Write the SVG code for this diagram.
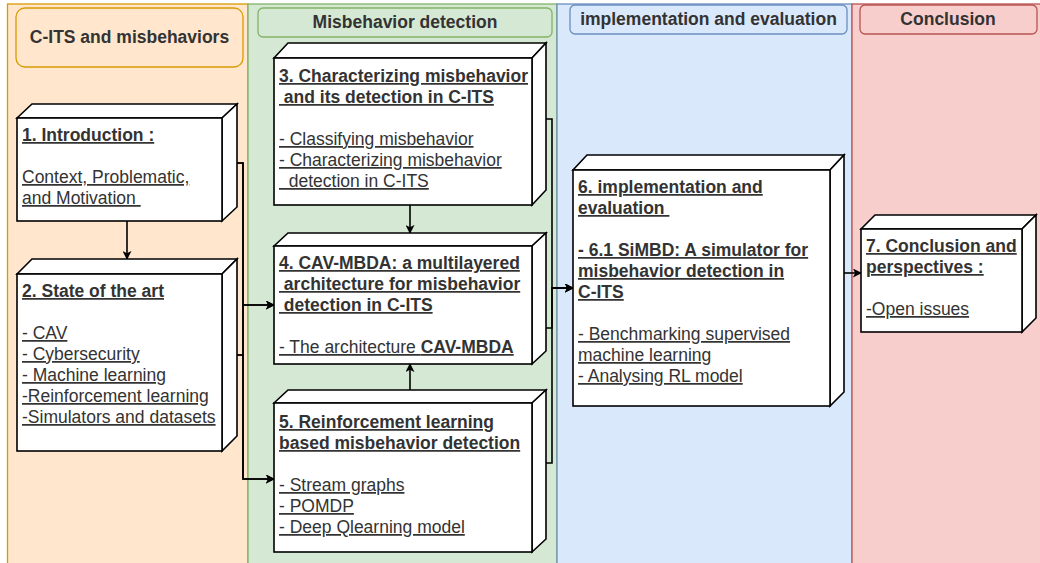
<svg xmlns="http://www.w3.org/2000/svg" width="1040" height="563" viewBox="0 0 1040 563">
<style>
text{font-family:"Liberation Sans",Arial,Helvetica,sans-serif;font-size:17.5px;fill:#333333;white-space:pre}
.hd{font-weight:bold;text-anchor:middle}
.u{text-decoration:underline}
.b{font-weight:bold}
.cube{fill:#ffffff;stroke:#000000;stroke-width:1.6;stroke-linejoin:miter}
.con{fill:none;stroke:#000000;stroke-width:1.6}
</style>
<defs>
<marker id="arr" viewBox="0 0 10 10" refX="9" refY="5" markerWidth="9" markerHeight="9" markerUnits="userSpaceOnUse" orient="auto">
<path d="M0,0 L10,5 L0,10 L2.5,5 z" fill="#000000"/>
</marker>
</defs>
<g id="lanes">
<rect x="7.5" y="4" width="240.5" height="570" fill="#ffe6cc" stroke="#d79b00" stroke-width="1.3"/>
<rect x="248" y="4" width="309" height="570" fill="#d5e8d4" stroke="#82b366" stroke-width="1.3"/>
<rect x="557" y="4" width="295" height="570" fill="#dae8fc" stroke="#6c8ebf" stroke-width="1.3"/>
<rect x="852" y="4" width="200" height="570" fill="#f8cecc" stroke="#b85450" stroke-width="1.3"/>
</g>
<g id="header-cits">
<rect x="16" y="8" width="227" height="59" rx="9" fill="#ffe6cc" stroke="#d79b00" stroke-width="1.3"/>
<text class="hd" x="129.5" y="43">C-ITS and misbehaviors</text>
</g>
<g id="header-detection">
<rect x="258" y="8" width="294" height="29" rx="5" fill="#d5e8d4" stroke="#82b366" stroke-width="1.3"/>
<text class="hd" x="405" y="28">Misbehavior detection</text>
</g>
<g id="header-implementation">
<rect x="570" y="5" width="277" height="29" rx="5" fill="#dae8fc" stroke="#6c8ebf" stroke-width="1.3"/>
<text class="hd" x="708.5" y="25">implementation and evaluation</text>
</g>
<g id="header-conclusion">
<rect x="860" y="5" width="177" height="29" rx="5" fill="#f8cecc" stroke="#b85450" stroke-width="1.3"/>
<text class="hd" x="948" y="25">Conclusion</text>
</g>
<g id="connectors">
<path class="con" d="M127,221 V259" marker-end="url(#arr)"/>
<path class="con" d="M237,163 H243 V305 H274" marker-end="url(#arr)"/>
<path class="con" d="M237,163 H243 V479 H274" marker-end="url(#arr)"/>
<path class="con" d="M237,355 H243 V305 H274" marker-end="url(#arr)"/>
<path class="con" d="M237,355 H243 V479 H274" marker-end="url(#arr)"/>
<path class="con" d="M410,205 V233" marker-end="url(#arr)"/>
<path class="con" d="M410,390 V364" marker-end="url(#arr)"/>
<path class="con" d="M546,119 H552 V288 H573" marker-end="url(#arr)"/>
<path class="con" d="M546,328 H552 V288 H573" marker-end="url(#arr)"/>
<path class="con" d="M546,463 H552 V288 H573" marker-end="url(#arr)"/>
<path class="con" d="M844,273 H861" marker-end="url(#arr)"/>
</g>
<g id="node1">
<polygon class="cube" points="17,118 32,104 237,104 222,118"/>
<polygon class="cube" points="222,118 237,104 237,207 222,221"/>
<rect class="cube" x="17" y="118" width="205" height="103"/>
<text x="22" y="141" class="u b">1. Introduction :</text>
<text x="22" y="183" class="u">Context, Problematic,</text>
<text x="22" y="204" class="u">and Motivation&#160;</text>
</g>
<g id="node2">
<polygon class="cube" points="17,274 32,259 237,259 222,274"/>
<polygon class="cube" points="222,274 237,259 237,436 222,451"/>
<rect class="cube" x="17" y="274" width="205" height="177"/>
<text x="22" y="297" class="u b">2. State of the art</text>
<text x="22" y="339" class="u">- CAV</text>
<text x="22" y="360" class="u">- Cybersecurity</text>
<text x="22" y="381" class="u">- Machine learning</text>
<text x="22" y="402" class="u">-Reinforcement learning</text>
<text x="22" y="423" class="u">-Simulators and datasets</text>
</g>
<g id="node3">
<polygon class="cube" points="274,58 288,43 546,43 532,58"/>
<polygon class="cube" points="532,58 546,43 546,190 532,205"/>
<rect class="cube" x="274" y="58" width="258" height="147"/>
<text x="279" y="82" class="u b">3. Characterizing misbehavior</text>
<text x="279" y="103" class="u b">&#160;and its detection in C-ITS</text>
<text x="279" y="145" class="u">- Classifying misbehavior</text>
<text x="279" y="166" class="u">- Characterizing misbehavior</text>
<text x="279" y="187" class="u">&#160;&#160;detection in C-ITS</text>
</g>
<g id="node4">
<polygon class="cube" points="274,246 288,233 546,233 532,246"/>
<polygon class="cube" points="532,246 546,233 546,351 532,364"/>
<rect class="cube" x="274" y="246" width="258" height="118"/>
<text x="279" y="269" class="u b">4. CAV-MBDA: a multilayered</text>
<text x="279" y="290" class="u b">&#160;architecture for misbehavior</text>
<text x="279" y="311" class="u b">&#160;detection in C-ITS</text>
<text x="279" y="353" class="u">- The architecture <tspan class="b">CAV-MBDA</tspan></text>
</g>
<g id="node5">
<polygon class="cube" points="274,403 288,390 546,390 532,403"/>
<polygon class="cube" points="532,403 546,390 546,539 532,552"/>
<rect class="cube" x="274" y="403" width="258" height="149"/>
<text x="279" y="428" class="u b">5. Reinforcement learning</text>
<text x="279" y="449" class="u b">based misbehavior detection</text>
<text x="279" y="491" class="u">- Stream graphs</text>
<text x="279" y="512" class="u">- POMDP</text>
<text x="279" y="533" class="u">- Deep Qlearning model</text>
</g>
<g id="node6">
<polygon class="cube" points="573,170 587,155 844,155 830,170"/>
<polygon class="cube" points="830,170 844,155 844,392 830,406"/>
<rect class="cube" x="573" y="170" width="257" height="236"/>
<text x="578" y="193" class="u b">6. implementation and</text>
<text x="578" y="214" class="u b">evaluation&#160;</text>
<text x="578" y="256" class="u b">- 6.1 SiMBD: A simulator for</text>
<text x="578" y="277" class="u b">misbehavior detection in</text>
<text x="578" y="298" class="u b">C-ITS</text>
<text x="578" y="340" class="u">- Benchmarking supervised</text>
<text x="578" y="361" class="u">machine learning</text>
<text x="578" y="382" class="u">- Analysing RL model</text>
</g>
<g id="node7">
<polygon class="cube" points="861,229 875,215 1036,215 1022,229"/>
<polygon class="cube" points="1022,229 1036,215 1036,318 1022,332"/>
<rect class="cube" x="861" y="229" width="161" height="103"/>
<text x="866" y="252" class="u b">7. Conclusion and</text>
<text x="866" y="273" class="u b">perspectives :</text>
<text x="866" y="315" class="u">-Open issues</text>
</g>
</svg>
